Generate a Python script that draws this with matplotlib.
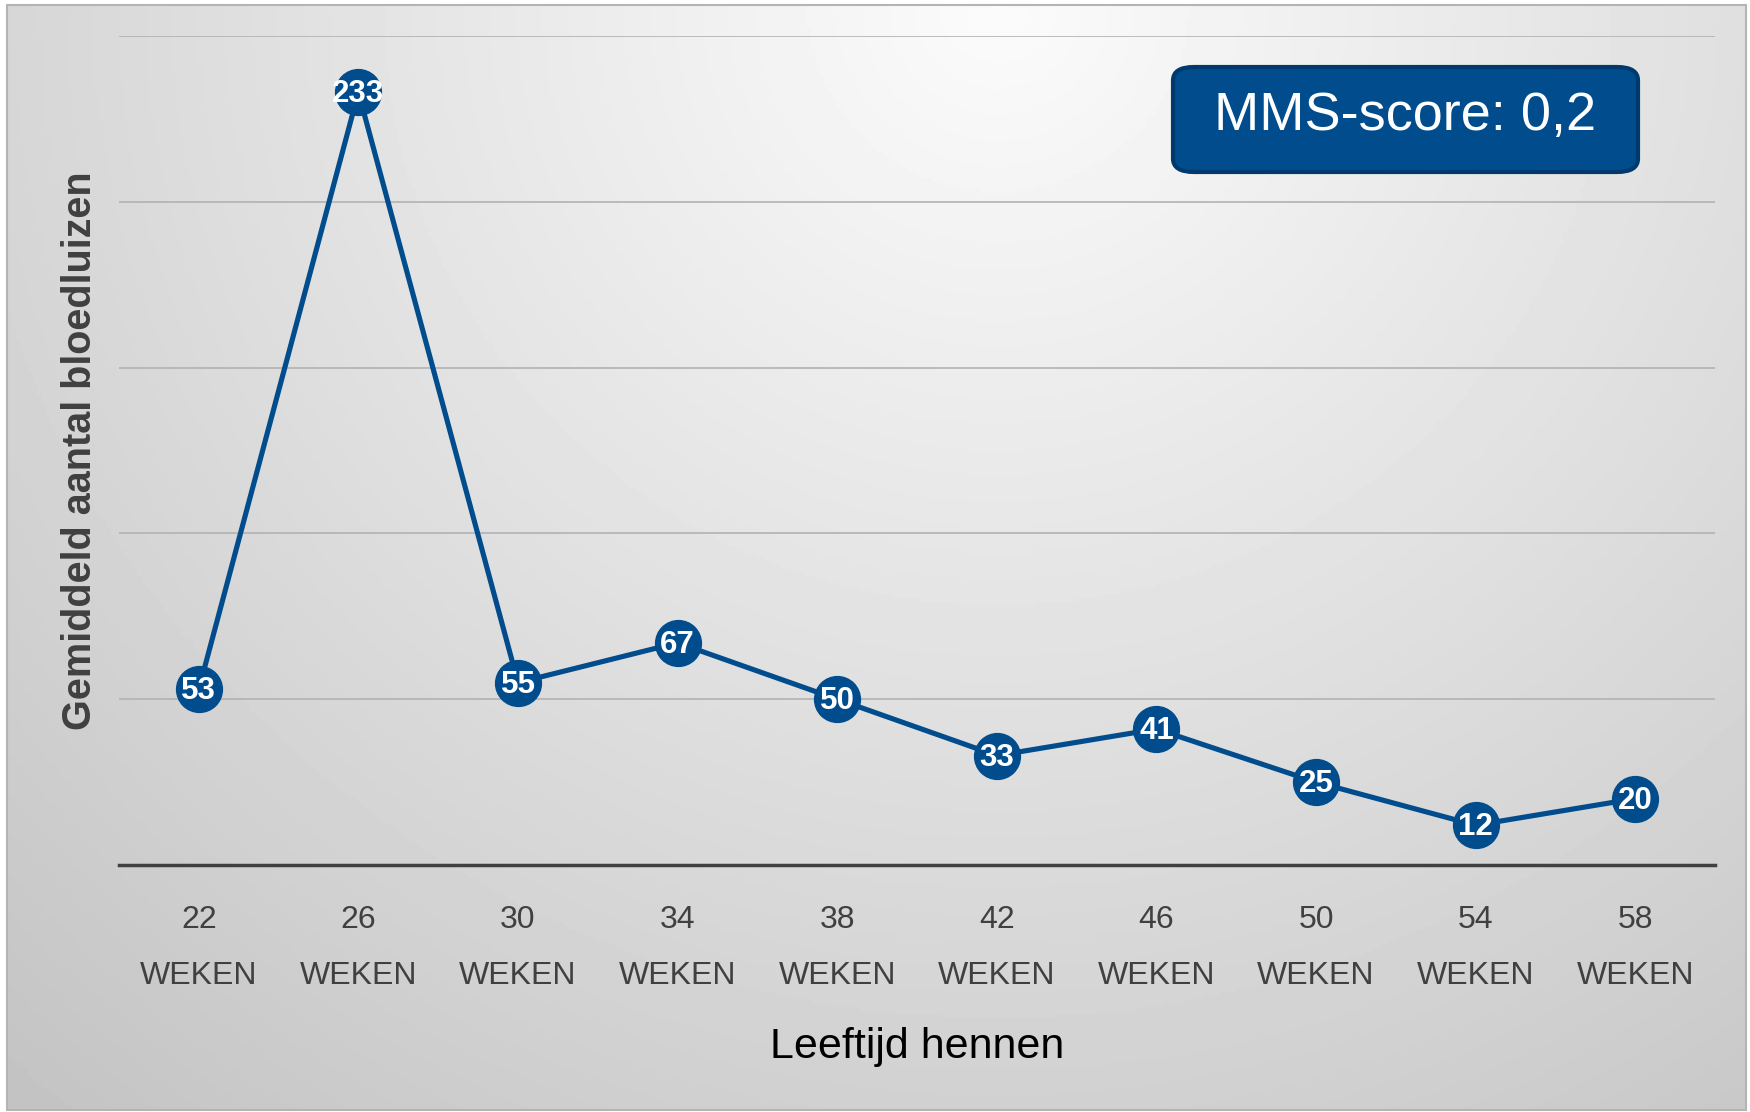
import matplotlib
matplotlib.use('Agg')
import matplotlib.pyplot as plt
import numpy as np
from matplotlib.patches import Rectangle, FancyBboxPatch

plt.rcParams['font.family'] = ['Liberation Sans', 'DejaVu Sans']

weeks = [22, 26, 30, 34, 38, 42, 46, 50, 54, 58]
counts = [53, 233, 55, 67, 50, 33, 41, 25, 12, 20]
tick_labels = [f"{w}\nWEKEN" for w in weeks]
mms_text = "MMS-score: 0,2"

W, H = 1750, 1112
fig = plt.figure(figsize=(W / 100, H / 100), dpi=100)
fig.patch.set_facecolor('white')

# achtergrond met verloop
bg = fig.add_axes([7 / W, 1 - 1110 / H, (1746 - 7) / W, (1110 - 5) / H])
yy, xx = np.mgrid[0:1:300j, 0:1:400j]
r = np.sqrt(((xx - 0.57) / 0.75) ** 2 + ((yy - 0.0) / 1.15) ** 2)
shade = 0.985 - 0.23 * np.clip(r, 0, 1.2) / 1.2
bg.imshow(shade, cmap='gray', vmin=0, vmax=1, aspect='auto', extent=[0, 1, 1, 0])
bg.set_xlim(0, 1)
bg.set_ylim(1, 0)
bg.axis('off')
fig.patches.append(Rectangle((7 / W, 1 - 1110 / H), (1746 - 7) / W, (1110 - 5) / H,
                             transform=fig.transFigure, fill=False, ec='#b4b4b4', lw=1.5))

ax = fig.add_axes([119 / W, 1 - 865 / H, (1715 - 119) / W, (865 - 36) / H])
ax.set_facecolor('none')
x = np.arange(len(weeks))
ax.plot(x, counts, color='#004c8c', lw=3.7, marker='o', ms=33, mfc='#004c8c', mec='#004c8c', zorder=3)
for xi, c in zip(x, counts):
    ax.annotate(str(c), (xi, c), xytext=(0, -1.5), textcoords='offset points', color='white',
                fontsize=22.5, fontweight='bold', ha='center', va='center', zorder=4)

ax.set_xlim(-0.5, len(weeks) - 0.5)
ax.set_ylim(0, 250)
ax.set_yticks([50, 100, 150, 200, 250])
ax.yaxis.grid(True, color='#b2b2b2', lw=1.2)
ax.tick_params(axis='y', left=False, labelleft=False)
ax.set_xticks(x)
ax.set_xticklabels(tick_labels, fontsize=23, color='#404040', linespacing=2.1)
ax.tick_params(axis='x', length=0, pad=29)
for s in ['top', 'right', 'left']:
    ax.spines[s].set_visible(False)
ax.spines['bottom'].set_color('#404040')
ax.spines['bottom'].set_linewidth(2.5)
ax.set_axisbelow(True)

fig.text(917 / W, 1 - 1047 / H, "Leeftijd hennen", fontsize=31, color='black',
         ha='center', va='center')
fig.text(80 / W, 1 - 451 / H, "Gemiddeld aantal bloedluizen", fontsize=28.5, fontweight='bold',
         color='#404040', rotation=90, ha='center', va='center')

box = FancyBboxPatch((1173 / W, 1 - 172 / H), (1638 - 1173) / W, (172 - 67) / H,
                     boxstyle='round,pad=0,rounding_size=0.012', transform=fig.transFigure,
                     fc='#004c8c', ec='#003a6c', lw=3)
fig.patches.append(box)
fig.text((1173 + 1638) / 2 / W, 1 - 116 / H, mms_text, fontsize=39, color='white',
         ha='center', va='center')

fig.savefig('out.png', dpi=100)
